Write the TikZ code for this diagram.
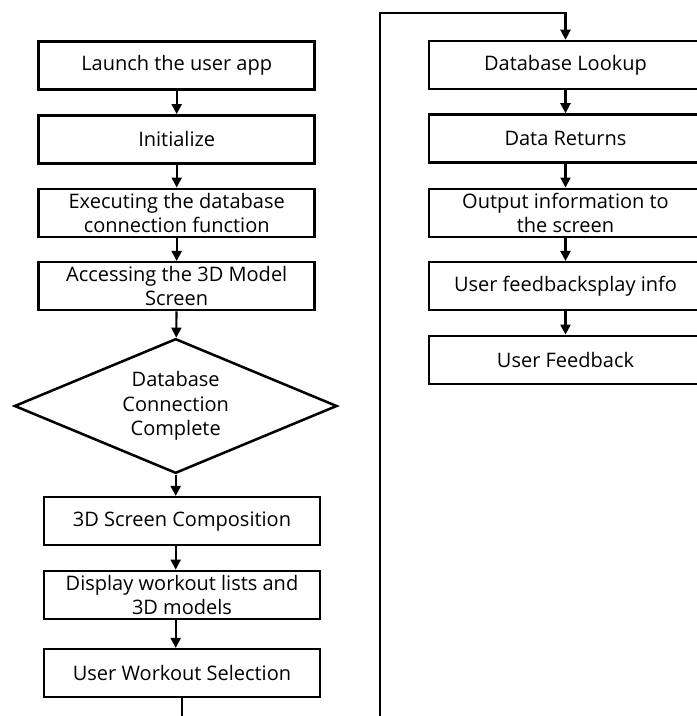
\documentclass[tikz,border=0pt]{standalone}
\usepackage{fontspec}
\setmainfont{Open Sans}
\usetikzlibrary{arrows.meta,shapes.geometric}

\begin{document}
\begin{tikzpicture}
	[x=0.75pt,y=-0.75pt,
	every node/.style={draw, line width=1.9pt, inner sep=0pt, align=center, font=\fontsize{15}{18.4}\selectfont},
	box/.style={rectangle, minimum width=207pt, minimum height=36pt},
	rbox/.style={rectangle, minimum width=205pt, minimum height=36pt},
	decision/.style={diamond, aspect=2.4, minimum width=242pt, minimum height=101pt},
	flow/.style={-{Triangle[width=7.5pt,length=7.5pt]}, line width=1.6pt}]
	\useasboundingbox (0,0) rectangle (696,716);
	\node[box] (n1) at (176.7,65.5) {Launch the user app};
	\node[box] (n2) at (176.7,139.3) {Initialize};
	\node[box] (n3) at (176.7,212.8) {Executing the database\\connection function};
	\node[box] (n4) at (176.7,286.2) {Accessing the 3D Model\\Screen};
	\node[decision] (n5) at (175.7,406) {Database\\Connection\\Complete};
	\node[box] (n6) at (182,521.2) {3D Screen Composition};
	\node[box] (n7) at (182,594.9) {Display workout lists and\\3D models};
	\node[box] (n8) at (182,673.2) {User Workout Selection};
	\node[rbox] (r1) at (565.5,65) {Database Lookup};
	\node[rbox] (r2) at (565.5,138.5) {Data Returns};
	\node[rbox] (r3) at (565.5,212.8) {Output information to\\the screen};
	\node[rbox] (r4) at (565.5,286.2) {User feedbacksplay info};
	\node[rbox] (r5) at (565.5,359.9) {User Feedback};
	\coordinate (cl) at (n8.south |- 0,716);
	\coordinate (cr) at (380,716);
	\coordinate (ct) at (380,13.3);

	\draw[flow] (n1) -- (n2);
	\draw[flow] (n2) -- (n3);
	\draw[flow] (n3) -- (n4);
	\draw[flow] (n4) -- (n5);
	\draw[flow] (n5) -- (n5 |- n6.north);
	\draw[flow] (n6.south -| n5) -- (n5 |- n7.north);
	\draw[flow] (n7.south -| n5) -- (n5 |- n8.north);
	\draw[line width=1.6pt] (n8.south) -- (cl);
	\draw[flow] (cr) -- (ct) -| (r1.north);
	\draw[flow] (r1) -- (r2);
	\draw[flow] (r2) -- (r3);
	\draw[flow] (r3) -- (r4);
	\draw[flow] (r4) -- (r5);
\end{tikzpicture}
\end{document}
